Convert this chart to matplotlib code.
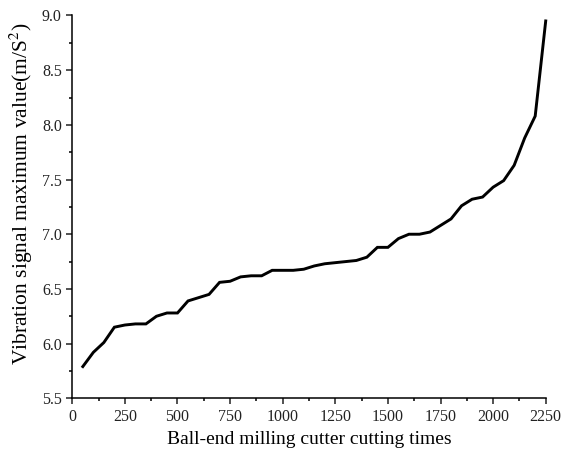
# Import libraries
import matplotlib.pyplot as plt
from matplotlib.ticker import MultipleLocator

# Data
cutting_times = [50, 100, 150, 200, 250, 300, 350, 400, 450, 500,
                 550, 600, 650, 700, 750, 800, 850, 900, 950, 1000,
                 1050, 1100, 1150, 1200, 1250, 1300, 1350, 1400, 1450, 1500,
                 1550, 1600, 1650, 1700, 1750, 1800, 1850, 1900, 1950, 2000,
                 2050, 2100, 2150, 2200, 2250]
max_vibration = [5.79, 5.92, 6.01, 6.15, 6.17, 6.18, 6.18, 6.25, 6.28, 6.28,
                 6.39, 6.42, 6.45, 6.56, 6.57, 6.61, 6.62, 6.62, 6.67, 6.67,
                 6.67, 6.68, 6.71, 6.73, 6.74, 6.75, 6.76, 6.79, 6.88, 6.88,
                 6.96, 7.00, 7.00, 7.02, 7.08, 7.14, 7.26, 7.32, 7.34, 7.43,
                 7.49, 7.63, 7.88, 8.08, 8.95]

plt.rcParams["font.family"] = ["Liberation Serif", "DejaVu Serif"]
plt.rcParams["mathtext.fontset"] = "stix"

fig = plt.figure(figsize=(5.63, 4.62), dpi=100)
ax = fig.add_axes([0.1284, 0.1379, 0.8409, 0.8286])

ax.plot(cutting_times, max_vibration, color="black", linewidth=2.1,
        clip_on=False, solid_joinstyle="miter")

ax.set_xlim(0, 2250)
ax.set_ylim(5.5, 9.0)
ax.xaxis.set_major_locator(MultipleLocator(250))
ax.xaxis.set_minor_locator(MultipleLocator(125))
ax.yaxis.set_major_locator(MultipleLocator(0.5))
ax.yaxis.set_minor_locator(MultipleLocator(0.25))
ax.yaxis.set_major_formatter(lambda v, p: f"{v:.1f}")

# Only left and bottom axes, ticks pointing out
ax.spines["top"].set_visible(False)
ax.spines["right"].set_visible(False)
for side in ["left", "bottom"]:
    ax.spines[side].set_linewidth(1.1)
ax.tick_params(which="major", direction="out", length=4, width=1.1,
               labelsize=11.5, colors="#222222", pad=3.5)
ax.tick_params(which="minor", direction="out", length=2.4, width=1.1)

ax.set_xlabel("Ball-end milling cutter cutting times", fontsize=14)
ax.xaxis.set_label_coords(0.5, -0.085)
ax.set_ylabel("Vibration signal maximum value(m/S$^2$)", fontsize=15.5)
ax.yaxis.set_label_coords(-0.079, 0.534)

fig.savefig("out.png", dpi=100)
